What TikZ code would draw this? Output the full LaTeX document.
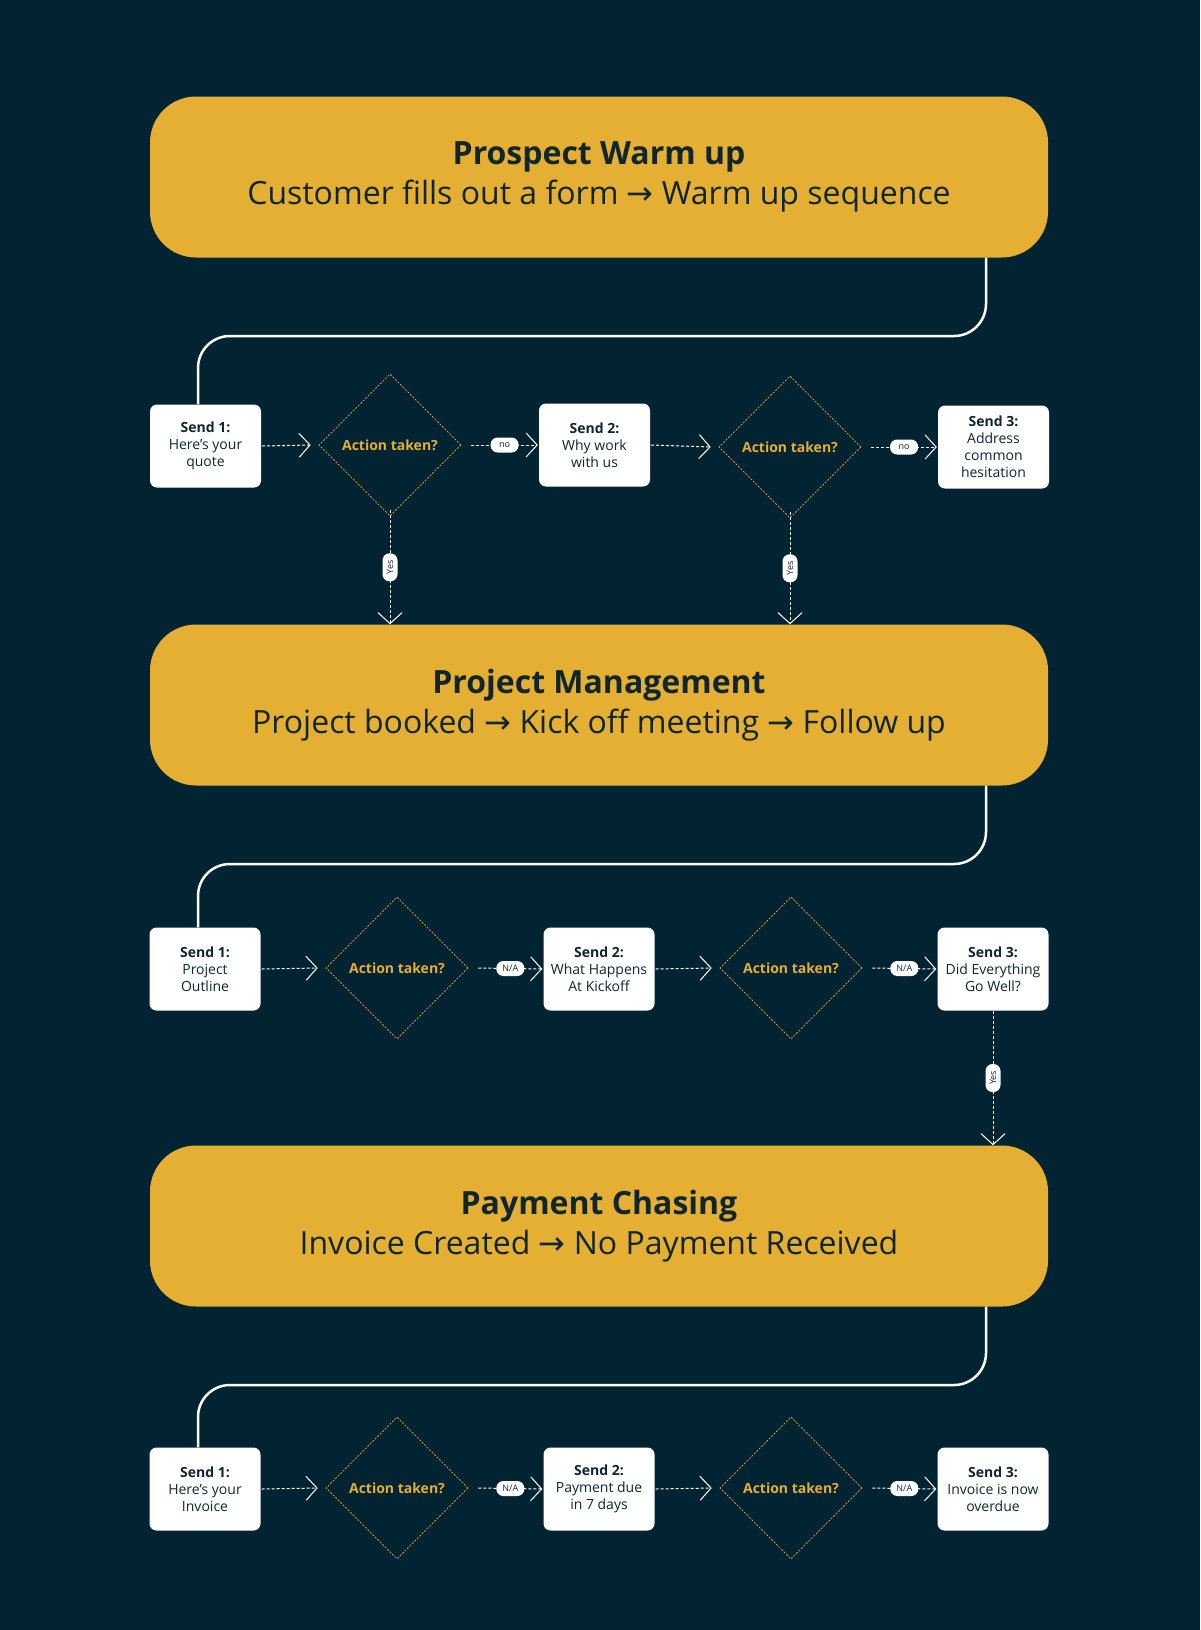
\documentclass[tikz,border=0pt]{standalone}
\usepackage{fontspec}
\setmainfont{Open Sans}
\newfontfamily\arrfont{DejaVu Sans}
\usetikzlibrary{shapes.geometric,arrows.meta}
\definecolor{bg}{HTML}{022331}
\definecolor{gold}{HTML}{E4AF32}
\definecolor{ink}{HTML}{10262E}
\newcommand{\ar}{{\arrfont →}}
\tikzset{
  banner/.style={fill=gold,rounded corners=46pt,minimum width=898pt,minimum height=161pt,align=center,text=ink,font=\fontsize{32}{40}\selectfont},
  sbox/.style={fill=white,rounded corners=7pt,minimum width=111pt,minimum height=83pt,align=center,text=ink,font=\fontsize{14}{17}\selectfont,inner sep=1pt},
  dec/.style={diamond,draw=gold,dashed,dash pattern=on 2pt off 1.5pt,line width=0.6pt,minimum width=142pt,minimum height=142pt,inner sep=0pt,text=gold,font=\fontsize{14}{17}\selectfont\bfseries},
  flow/.style={draw=white,line width=1pt,dashed,dash pattern=on 3pt off 2pt,-{Straight Barb[length=11pt,width=24pt,line width=1pt]}},
  pill/.style={fill=white,rounded corners=7pt,text=ink,font=\fontsize{9}{10}\selectfont,inner sep=2.5pt,minimum height=15pt,minimum width=28pt},
  link/.style={draw=white,line width=2.5pt,rounded corners=32pt}
}
\begin{document}
\begin{tikzpicture}[x=1pt,y=-1pt]
\fill[bg] (0,0) rectangle (1200,1630);
\useasboundingbox (0,0) rectangle (1200,1630);
% banners
\node[banner] (b1) at (599,177) {\textbf{Prospect Warm up}\\Customer fills out a form \ar{} Warm up sequence};
\node[banner] (b2) at (599,705) {\textbf{Project Management}\\Project booked \ar{} Kick off meeting \ar{} Follow up};
\node[banner] (b3) at (599,1226) {\textbf{Payment Chasing}\\Invoice Created \ar{} No Payment Received};
% row 1
\node[sbox] (a1) at (205.5,446) {\textbf{Send 1:}\\Here’s your\\quote};
\node[dec] (ad1) at (390,445) {Action taken?};
\node[sbox] (a2) at (594.5,445) {\textbf{Send 2:}\\Why work\\with us};
\node[dec] (ad2) at (790,447) {Action taken?};
\node[sbox] (a3) at (993.5,447) {\textbf{Send 3:}\\Address\\common\\hesitation};
% row 2
\node[sbox] (p1) at (205,969) {\textbf{Send 1:}\\Project\\Outline};
\node[dec] (pd1) at (397,968) {Action taken?};
\node[sbox] (p2) at (599,969) {\textbf{Send 2:}\\What Happens\\At Kickoff};
\node[dec] (pd2) at (791,968) {Action taken?};
\node[sbox] (p3) at (993,969) {\textbf{Send 3:}\\Did Everything\\Go Well?};
% row 3
\node[sbox] (c1) at (205,1489) {\textbf{Send 1:}\\Here’s your\\Invoice};
\node[dec] (cd1) at (397,1488) {Action taken?};
\node[sbox] (c2) at (599,1489) {\textbf{Send 2:}\\Payment due\\in 7 days};
\node[dec] (cd2) at (791,1488) {Action taken?};
\node[sbox] (c3) at (993,1489) {\textbf{Send 3:}\\Invoice is now\\overdue};
% links banners -> rows
\draw[link] (b1.south -| 986,0) -- (986,336) -- (198,336) -- (a1.north -| 198,0);
\draw[link] (b2.south -| 986,0) -- (986,864) -- (198,864) -- (p1.north -| 198,0);
\draw[link] (b3.south -| 986,0) -- (986,1385) -- (198,1385) -- (c1.north -| 198,0);
% row flows
\foreach \s/\d/\t/\lab in {a1/ad1/a2/no,a2/ad2/a3/no,p1/pd1/p2/N\slash A,p2/pd2/p3/N\slash A,c1/cd1/c2/N\slash A,c2/cd2/c3/N\slash A}{
  \draw[flow] ([xshift=1pt]\s.east) -- ([xshift=-8pt]\d.west);
  \draw[flow] ([xshift=10pt]\d.east) -- node[pill]{\lab} ([xshift=-1pt]\t.west);
}
% yes flows
\draw[flow] ([yshift=6pt]ad1.south) -- node[pill,rotate=90]{Yes} (b2.north -| ad1);
\draw[flow] ([yshift=6pt]ad2.south) -- node[pill,rotate=90]{Yes} (b2.north -| ad2);
\draw[flow] (p3.south) -- node[pill,rotate=90]{Yes} (b3.north -| p3);
\end{tikzpicture}
\end{document}
